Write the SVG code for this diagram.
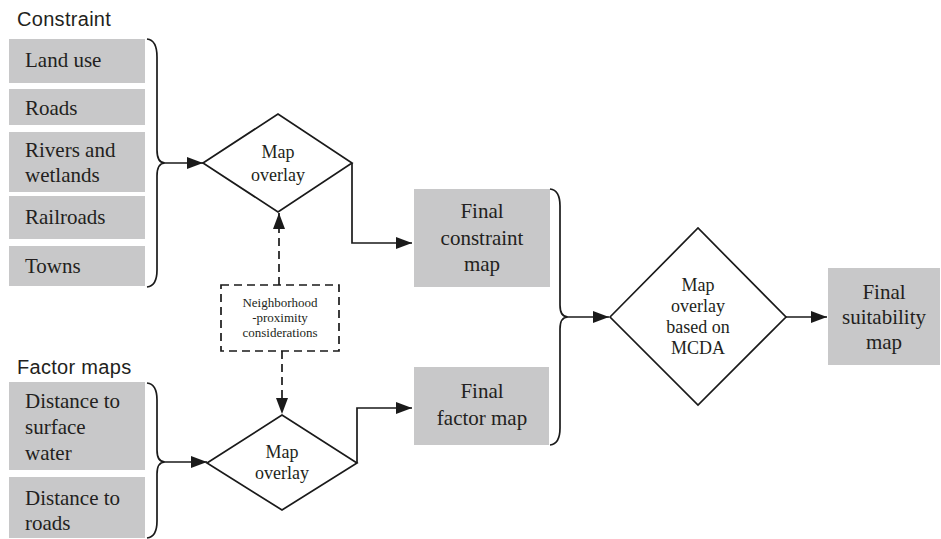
<svg xmlns="http://www.w3.org/2000/svg" width="941" height="539" viewBox="0 0 941 539">
<defs>
<marker id="arr" markerUnits="userSpaceOnUse" markerWidth="16" markerHeight="12" refX="16" refY="6" orient="auto">
<path d="M0,0 L16,6 L0,12 z" fill="#1a1a1a"/>
</marker>
<style>
.box{fill:#c8c8c9;stroke:none}
.t{font-family:"Liberation Serif","Times New Roman",serif;font-size:21px;fill:#231f20}
.tc{font-family:"Liberation Serif","Times New Roman",serif;font-size:21px;fill:#231f20;text-anchor:middle}
.td{font-family:"Liberation Serif","Times New Roman",serif;font-size:18px;fill:#231f20;text-anchor:middle}
.tn{font-family:"Liberation Serif","Times New Roman",serif;font-size:13px;fill:#231f20;text-anchor:middle}
.h{font-family:"Liberation Sans",Arial,sans-serif;font-size:20px;letter-spacing:0.3px;fill:#231f20}
.dia{fill:#fff;stroke:#1a1a1a;stroke-width:1.7}
.ln{fill:none;stroke:#1a1a1a;stroke-width:1.7}
.dash{fill:none;stroke:#1a1a1a;stroke-width:1.7;stroke-dasharray:8,5}
</style>
</defs>
<rect width="941" height="539" fill="#fff"/>

<text class="h" x="17" y="26">Constraint</text>
<text class="h" x="17" y="374">Factor maps</text>

<g id="land-use"><rect class="box" x="9" y="39" width="136" height="44"/><text class="t" x="25" y="67">Land use</text></g>
<g id="roads"><rect class="box" x="9" y="89" width="136" height="36"/><text class="t" x="25" y="115">Roads</text></g>
<g id="rivers"><rect class="box" x="9" y="132" width="136" height="60"/><text class="t" x="25" y="157">Rivers and</text><text class="t" x="25" y="182">wetlands</text></g>
<g id="railroads"><rect class="box" x="9" y="196" width="136" height="43"/><text class="t" x="25" y="224">Railroads</text></g>
<g id="towns"><rect class="box" x="9" y="246" width="136" height="40"/><text class="t" x="25" y="273">Towns</text></g>

<g id="dist-water"><rect class="box" x="9" y="382" width="136" height="88"/><text class="t" x="25" y="408">Distance to</text><text class="t" x="25" y="434">surface</text><text class="t" x="25" y="460">water</text></g>
<g id="dist-roads"><rect class="box" x="9" y="477" width="136" height="61"/><text class="t" x="25" y="505">Distance to</text><text class="t" x="25" y="530">roads</text></g>

<g id="overlay1"><path class="dia" d="M203,163 L278,114 L352,163 L278,212 z"/><text class="td" x="278" y="158">Map</text><text class="td" x="278" y="181">overlay</text></g>

<g id="neighborhood"><rect class="dash" x="221" y="285" width="118" height="66"/><text class="tn" x="280" y="307">Neighborhood</text><text class="tn" x="280" y="322">-proximity</text><text class="tn" x="280" y="337">considerations</text></g>

<g id="overlay2"><path class="dia" d="M207,463 L282,415 L357,463 L282,510 z"/><text class="td" x="282" y="458">Map</text><text class="td" x="282" y="479">overlay</text></g>

<g id="final-constraint"><rect class="box" x="414" y="189" width="136" height="98"/><text class="tc" x="482" y="218">Final</text><text class="tc" x="482" y="245">constraint</text><text class="tc" x="482" y="271">map</text></g>
<g id="final-factor"><rect class="box" x="414" y="367" width="135" height="78"/><text class="tc" x="482" y="398">Final</text><text class="tc" x="482" y="425">factor map</text></g>

<g id="overlay-mcda"><path class="dia" d="M610,317 L698,228 L786,317 L698,405 z"/><text class="td" x="698" y="291">Map</text><text class="td" x="698" y="312">overlay</text><text class="td" x="698" y="333">based on</text><text class="td" x="698" y="354">MCDA</text></g>

<g id="final-suitability"><rect class="box" x="828" y="268" width="112" height="97"/><text class="tc" x="884" y="299">Final</text><text class="tc" x="884" y="324">suitability</text><text class="tc" x="884" y="349">map</text></g>

<g id="connectors">
<path class="ln" d="M147,39 Q157,40 157,57 L157,150 Q157,163 165,163 Q157,163 157,176 L157,270 Q157,286 147,287"/>
<path class="ln" d="M165,163 L203,163" marker-end="url(#arr)"/>
<path class="ln" d="M147,383 Q157,384 157,400 L157,450 Q157,462 165,462 Q157,462 157,474 L157,521 Q157,537 147,538"/>
<path class="ln" d="M165,462 L207,462" marker-end="url(#arr)"/>
<path class="ln" d="M352,163 L352,243 L412,243" marker-end="url(#arr)"/>
<path class="ln" d="M357,463 L357,408 L412,408" marker-end="url(#arr)"/>
<path class="dash" d="M279,285 L279,213" marker-end="url(#arr)"/>
<path class="dash" d="M282,351 L282,414" marker-end="url(#arr)"/>
<path class="ln" d="M550,189 Q560,190 560,206 L560,305 Q560,317 568,317 Q560,317 560,329 L560,428 Q560,444 550,445"/>
<path class="ln" d="M568,317 L609,317" marker-end="url(#arr)"/>
<path class="ln" d="M786,317 L827,317" marker-end="url(#arr)"/>
</g>
</svg>
